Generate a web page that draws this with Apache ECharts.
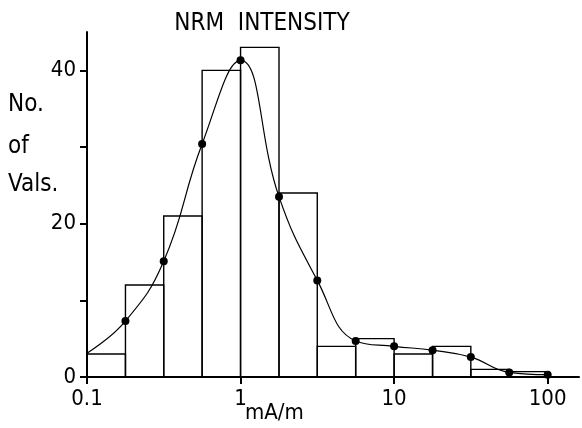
<!DOCTYPE html>
<html>
<head>
<meta charset="utf-8">
<script src="https://cdn.jsdelivr.net/npm/echarts@6/dist/echarts.min.js"></script>
<style>html,body{margin:0;padding:0;background:#fff}#c{width:582px;height:428px}</style>
</head>
<body>
<div id="c"></div>
<script>
// Histogram bins (quarter-decade edges, mA/m) and counts
var binEdges = [0.1, 0.178, 0.316, 0.562, 1, 1.78, 3.16, 5.62, 10, 17.8, 31.6, 56.2, 100];
var binCounts = [3, 12, 21, 40, 43, 24, 4, 5, 3, 4, 1, 0.7];
// Smoothed curve points at the bin edges
var curveX = [0.1, 0.178, 0.316, 0.562, 1, 1.78, 3.16, 5.62, 10, 17.8, 31.6, 56.2, 100];
var curveY = [3.1, 7.3, 15.1, 30.4, 41.3, 23.5, 12.6, 4.7, 4.0, 3.5, 2.6, 0.6, 0.3];
var xTickValues = [0.1, 1, 10, 100];
var yTickValues = [0, 10, 20, 30, 40];
var yLabelValues = [0, 20, 40];

var FONT = "'DejaVu Sans Condensed','DejaVu Sans',sans-serif";
var chart = echarts.init(document.getElementById('c'), null, {renderer: 'canvas'});

var histData = binCounts.map(function (v, i) { return [binEdges[i], binEdges[i + 1], v]; });
var curveData = curveX.map(function (x, i) { return [x, curveY[i]]; });

chart.setOption({
  animation: false,
  backgroundColor: '#fff',
  grid: {left: 87, right: 3, top: 32, bottom: 51},
  xAxis: {
    type: 'log', logBase: 10, min: 0.1, max: 160,
    axisLine: {lineStyle: {color: '#000', width: 2}},
    axisTick: {show: true, inside: false, length: 7, lineStyle: {color: '#000', width: 2}, customValues: xTickValues},
    minorTick: {show: false},
    splitLine: {show: false},
    axisLabel: {
      customValues: xTickValues, color: '#000', fontFamily: FONT, fontSize: 22, margin: 11,
      formatter: function (v) { return String(+v.toPrecision(3)); }
    }
  },
  yAxis: {
    type: 'value', min: 0, max: 45,
    axisLine: {show: true, lineStyle: {color: '#000', width: 2}},
    axisTick: {show: true, length: 7, lineStyle: {color: '#000', width: 2}, customValues: yTickValues},
    splitLine: {show: false},
    axisLabel: {customValues: yLabelValues, color: '#000', fontFamily: FONT, fontSize: 22, margin: 11}
  },
  graphic: [
    {type: 'text', x: 262, y: 24, style: {text: 'NRM  INTENSITY', font: '24px ' + FONT, fill: '#000', align: 'center', verticalAlign: 'middle'}},
    {type: 'text', left: 8, top: 93, style: {text: 'No.', font: '24px ' + FONT, fill: '#000'}},
    {type: 'text', left: 8, top: 135, style: {text: 'of', font: '24px ' + FONT, fill: '#000'}},
    {type: 'text', left: 8, top: 173, style: {text: 'Vals.', font: '24px ' + FONT, fill: '#000'}},
    {type: 'text', left: 245, top: 402, style: {text: 'mA/m', font: '22px ' + FONT, fill: '#000'}}
  ],
  series: [
    {
      type: 'custom',
      data: histData,
      renderItem: function (params, api) {
        var p0 = api.coord([api.value(0), 0]);
        var p1 = api.coord([api.value(1), api.value(2)]);
        return {
          type: 'rect',
          shape: {x: p0[0], y: p1[1], width: p1[0] - p0[0], height: p0[1] - p1[1]},
          style: {fill: 'none', stroke: '#000', lineWidth: 1.4}
        };
      },
      z: 2
    },
    {
      type: 'line',
      data: curveData,
      smooth: 0.45,
      symbol: 'circle',
      symbolSize: function (v, p) { return p.dataIndex === 0 ? 0 : 8; },
      itemStyle: {color: '#000'},
      lineStyle: {color: '#000', width: 1.2},
      z: 3
    }
  ]
});
</script>
</body>
</html>
